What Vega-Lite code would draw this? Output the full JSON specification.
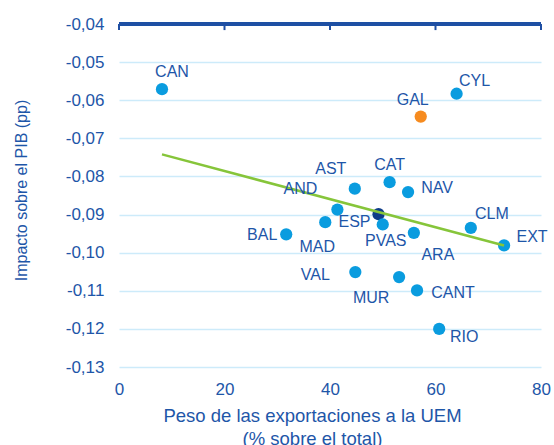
{
  "$schema": "https://vega.github.io/schema/vega-lite/v6.json",
  "width": 422,
  "height": 343,
  "autosize": "none",
  "padding": {"left": 119, "top": 24, "right": 13, "bottom": 78},
  "background": "white",
  "config": {
    "view": {"stroke": null},
    "font": "Liberation Sans",
    "text": {"font": "Liberation Sans", "fontSize": 16, "color": "#1E56A8"}
  },
  "datasets": {
    "pts": [
      {"r": "CAN", "x": 8.15, "y": -0.0571, "g": "ccaa"},
      {"r": "CYL", "x": 64.0, "y": -0.0583, "g": "ccaa"},
      {"r": "GAL", "x": 57.2, "y": -0.0643, "g": "GAL"},
      {"r": "AST", "x": 44.7, "y": -0.0832, "g": "ccaa"},
      {"r": "CAT", "x": 51.3, "y": -0.0815, "g": "ccaa"},
      {"r": "NAV", "x": 54.8, "y": -0.0841, "g": "ccaa"},
      {"r": "AND", "x": 41.4, "y": -0.0887, "g": "ccaa"},
      {"r": "ESP", "x": 49.2, "y": -0.0899, "g": "ESP"},
      {"r": "MAD", "x": 39.1, "y": -0.0920, "g": "ccaa"},
      {"r": "PVAS", "x": 50.0, "y": -0.0926, "g": "ccaa"},
      {"r": "BAL", "x": 31.7, "y": -0.0952, "g": "ccaa"},
      {"r": "ARA", "x": 55.9, "y": -0.0948, "g": "ccaa"},
      {"r": "CLM", "x": 66.7, "y": -0.0935, "g": "ccaa"},
      {"r": "EXT", "x": 73.0, "y": -0.0981, "g": "ccaa"},
      {"r": "VAL", "x": 44.8, "y": -0.1051, "g": "ccaa"},
      {"r": "MUR", "x": 53.1, "y": -0.1064, "g": "ccaa"},
      {"r": "CANT", "x": 56.5, "y": -0.1099, "g": "ccaa"},
      {"r": "RIO", "x": 60.7, "y": -0.1200, "g": "ccaa"}
    ],
    "trend": [
      {"x": 8.15, "y": -0.0742},
      {"x": 73.0, "y": -0.0981}
    ]
  },
  "data": {"name": "pts"},
  "encoding": {
    "x": {"field": "x", "type": "quantitative",
      "scale": {"domain": [0, 80], "nice": false, "zero": false},
      "axis": {"orient": "bottom", "values": [0, 20, 40, 60, 80], "domain": false, "ticks": false, "grid": false,
        "labelFont": "Liberation Sans", "labelFontSize": 17, "labelColor": "#1E56A8", "labelPadding": 14,
        "labelOverlap": false, "labelFlush": false,
        "title": ["Peso de las exportaciones a la UEM", "(% sobre el total)"],
        "titleFont": "Liberation Sans", "titleFontSize": 18.5, "titleFontWeight": "normal", "titleColor": "#1E56A8",
        "titlePadding": 9, "titleLineHeight": 23, "titleX": 193, "titleAnchor": null, "titleAlign": "center"}},
    "y": {"field": "y", "type": "quantitative",
      "scale": {"domain": [-0.13, -0.04], "nice": false, "zero": false},
      "axis": {"values": [-0.13, -0.12, -0.11, -0.1, -0.09, -0.08, -0.07, -0.06, -0.05, -0.04],
        "labelExpr": "replace(replace(format(datum.value, '.2f'), '.', ','), '\u2212', '-')",
        "labelOverlap": false, "labelFlush": false,
        "domain": false, "ticks": false, "grid": true, "gridColor": "#CDEBFA", "gridWidth": 1.5,
        "labelFont": "Liberation Sans", "labelFontSize": 17, "labelColor": "#1E56A8", "labelPadding": 15,
        "title": "Impacto sobre el PIB (pp)", "titleFont": "Liberation Sans", "titleFontSize": 16,
        "titleFontWeight": "normal", "titleColor": "#1E56A8", "titlePadding": 36, "titleY": 166}}
  },
  "layer": [
    {
      "mark": {"type": "rule", "color": "#1F4FA3", "strokeWidth": 2.5},
      "encoding": {
        "x": {"datum": 0},
        "x2": {"datum": 80},
        "y": {"datum": -0.04}
      }
    },
    {
      "data": {"values": [{"x": 0, "y": -0.04, "y2": -0.0416}, {"x": 20, "y": -0.04, "y2": -0.0416}, {"x": 40, "y": -0.04, "y2": -0.0416}, {"x": 60, "y": -0.04, "y2": -0.0416}, {"x": 80, "y": -0.04, "y2": -0.0416}]},
      "mark": {"type": "rule", "color": "#1F4FA3", "strokeWidth": 2},
      "encoding": {
        "y2": {"field": "y2"}
      }
    },
    {
      "mark": {"type": "circle", "size": 150, "opacity": 1},
      "encoding": {
        "color": {"field": "g", "type": "nominal",
          "scale": {"domain": ["ccaa", "ESP", "GAL"], "range": ["#0A9CDF", "#0E3C88", "#F68B1F"]},
          "legend": null}
      }
    },
    {
      "data": {"name": "trend"},
      "mark": {"type": "line", "color": "#86C53A", "strokeWidth": 2.5},
      "encoding": {}
    },
    {"transform": [{"filter": "datum.r == 'CAN'"}], "mark": {"type": "text", "dx": 10, "dy": -17}, "encoding": {"text": {"field": "r"}}},
    {"transform": [{"filter": "datum.r == 'CYL'"}], "mark": {"type": "text", "dx": 18, "dy": -13}, "encoding": {"text": {"field": "r"}}},
    {"transform": [{"filter": "datum.r == 'GAL'"}], "mark": {"type": "text", "dx": -8, "dy": -17}, "encoding": {"text": {"field": "r"}}},
    {"transform": [{"filter": "datum.r == 'AST'"}], "mark": {"type": "text", "dx": -24, "dy": -20}, "encoding": {"text": {"field": "r"}}},
    {"transform": [{"filter": "datum.r == 'CAT'"}], "mark": {"type": "text", "dx": 0, "dy": -17}, "encoding": {"text": {"field": "r"}}},
    {"transform": [{"filter": "datum.r == 'NAV'"}], "mark": {"type": "text", "dx": 29, "dy": -4}, "encoding": {"text": {"field": "r"}}},
    {"transform": [{"filter": "datum.r == 'AND'"}], "mark": {"type": "text", "dx": -37, "dy": -21}, "encoding": {"text": {"field": "r"}}},
    {"transform": [{"filter": "datum.r == 'ESP'"}], "mark": {"type": "text", "dx": -24, "dy": 8}, "encoding": {"text": {"field": "r"}}},
    {"transform": [{"filter": "datum.r == 'MAD'"}], "mark": {"type": "text", "dx": -8, "dy": 25}, "encoding": {"text": {"field": "r"}}},
    {"transform": [{"filter": "datum.r == 'PVAS'"}], "mark": {"type": "text", "dx": 3, "dy": 17}, "encoding": {"text": {"field": "r"}}},
    {"transform": [{"filter": "datum.r == 'BAL'"}], "mark": {"type": "text", "dx": -24, "dy": 1}, "encoding": {"text": {"field": "r"}}},
    {"transform": [{"filter": "datum.r == 'ARA'"}], "mark": {"type": "text", "dx": 24, "dy": 22}, "encoding": {"text": {"field": "r"}}},
    {"transform": [{"filter": "datum.r == 'CLM'"}], "mark": {"type": "text", "dx": 21, "dy": -14}, "encoding": {"text": {"field": "r"}}},
    {"transform": [{"filter": "datum.r == 'EXT'"}], "mark": {"type": "text", "dx": 28, "dy": -8}, "encoding": {"text": {"field": "r"}}},
    {"transform": [{"filter": "datum.r == 'VAL'"}], "mark": {"type": "text", "dx": -40, "dy": 3}, "encoding": {"text": {"field": "r"}}},
    {"transform": [{"filter": "datum.r == 'MUR'"}], "mark": {"type": "text", "dx": -28, "dy": 21}, "encoding": {"text": {"field": "r"}}},
    {"transform": [{"filter": "datum.r == 'CANT'"}], "mark": {"type": "text", "dx": 36, "dy": 3}, "encoding": {"text": {"field": "r"}}},
    {"transform": [{"filter": "datum.r == 'RIO'"}], "mark": {"type": "text", "dx": 25, "dy": 8}, "encoding": {"text": {"field": "r"}}}
  ]
}
